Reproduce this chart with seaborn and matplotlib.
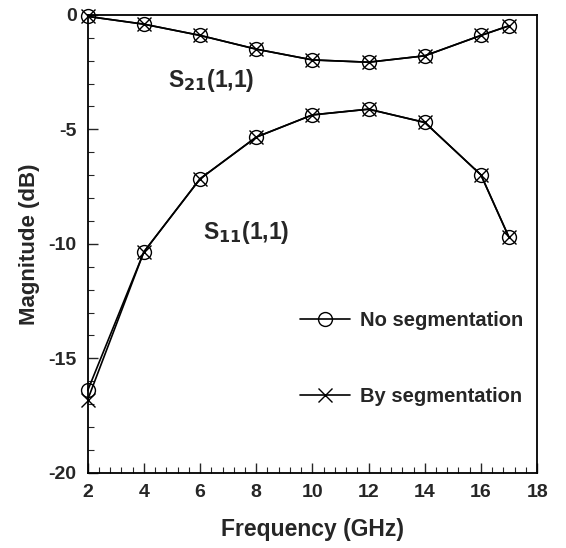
import matplotlib
matplotlib.use("Agg")
import matplotlib.pyplot as plt
import seaborn as sns
import pandas as pd
from matplotlib.ticker import MultipleLocator

freq = [2, 4, 6, 8, 10, 12, 14, 16, 17]
s21_noseg = [-0.07, -0.41, -0.90, -1.50, -1.97, -2.07, -1.79, -0.90, -0.48]
s21_seg   = [-0.07, -0.41, -0.90, -1.50, -1.97, -2.07, -1.79, -0.90, -0.48]
s11_noseg = [-16.4, -10.35, -7.16, -5.34, -4.37, -4.12, -4.70, -6.99, -9.72]
s11_seg   = [-16.8, -10.35, -7.16, -5.34, -4.37, -4.12, -4.70, -6.99, -9.72]

sns.set_style("ticks")
plt.rcParams['font.family'] = ['Liberation Sans', 'DejaVu Sans']
plt.rcParams['font.weight'] = 'bold'
plt.rcParams['axes.unicode_minus'] = False
plt.rcParams['mathtext.default'] = 'bf'

fig = plt.figure(figsize=(5.66, 5.48), dpi=100)
ax = fig.add_axes([0.155, 0.137, 0.794, 0.836])

def draw(y, marker, label=None):
    df = pd.DataFrame({"f": freq, "m": y})
    sns.lineplot(data=df, x="f", y="m", ax=ax, color="black", lw=1.2,
                 marker=marker, markersize=10, markerfacecolor="none",
                 markeredgecolor="black", markeredgewidth=1.0,
                 label=label, legend=False, clip_on=False)

draw(s21_noseg, "o")
draw(s21_seg, "x")
draw(s11_noseg, "o", "No segmentation")
draw(s11_seg, "x", "By segmentation")

ax.set_xlim(2, 18)
ax.set_ylim(-20, 0)
ax.xaxis.set_major_locator(MultipleLocator(2))
ax.xaxis.set_minor_locator(MultipleLocator(0.4))
ax.yaxis.set_major_locator(MultipleLocator(5))
ax.yaxis.set_minor_locator(MultipleLocator(1))
ax.tick_params(which="major", direction="in", length=7, width=1.0, labelsize=14, pad=8)
ax.tick_params(which="minor", direction="in", length=4, width=0.8)
for lab in ax.get_xticklabels() + ax.get_yticklabels():
    lab.set_fontweight("bold")
for s in ax.spines.values():
    s.set_linewidth(1.3)
    s.set_color("black")

ax.set_xlabel("Frequency (GHz)", fontsize=16.5, fontweight="bold", labelpad=12)
ax.set_ylabel("Magnitude (dB)", fontsize=16, fontweight="bold", labelpad=6)

ax.text(4.85, -2.85, r"S$_{21}$(1,1)", fontsize=16.5, fontweight="bold", va="center")
ax.text(6.1, -9.5, r"S$_{11}$(1,1)", fontsize=16.5, fontweight="bold", va="center")

leg = ax.legend(loc="center left", bbox_to_anchor=(0.432, 0.25), frameon=False,
                handlelength=2.5, handletextpad=0.5, labelspacing=2.8,
                prop={"weight": "bold", "size": 14.5})

fig.savefig("out.png", dpi=100)
